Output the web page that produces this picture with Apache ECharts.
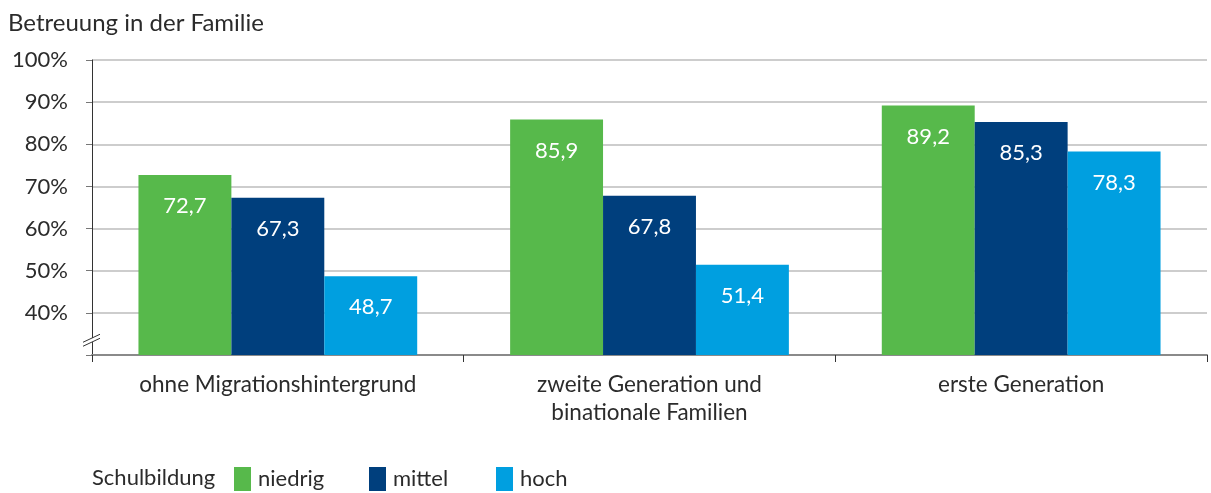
<!DOCTYPE html>
<html>
<head>
<meta charset="utf-8">
<script src="https://cdn.jsdelivr.net/npm/echarts@6/dist/echarts.min.js"></script>
<style>
    html, body { margin: 0; padding: 0; background: #fff; }
    #chart { width: 1211px; height: 493px; }
</style>
</head>
<body>
<div id="chart"></div>
<script>
"use strict";
var categories = ["ohne Migrationshintergrund", "zweite Generation und\nbinationale Familien", "erste Generation"];
var seriesNames = ["niedrig", "mittel", "hoch"];
var niedrig = [72.7, 85.9, 89.2];
var mittel = [67.3, 67.8, 85.3];
var hoch = [48.7, 51.4, 78.3];
var colors = ["#57b94b", "#003f7d", "#009fe0"];
var legendLefts = [234, 369, 496];

var fontFamily = "Lato, 'Open Sans', sans-serif";
var textColor = "#2b2b2b";

var chart = echarts.init(document.getElementById("chart"));

function makeSeries(name, values, color) {
    return {
        name: name,
        type: "bar",
        data: values,
        itemStyle: { color: color },
        barGap: "0%",
        barCategoryGap: "25%",
        label: {
            show: true,
            position: "insideTop",
            distance: 20,
            color: "#fff",
            fontSize: 22,
            fontFamily: fontFamily,
            formatter: function (p) {
                return p.value.toFixed(1).replace(".", ",");
            }
        }
    };
}

function makeLegend(i) {
    return {
        data: [seriesNames[i]],
        left: legendLefts[i],
        top: 467,
        padding: 0,
        itemWidth: 17,
        itemHeight: 24,
        itemGap: 0,
        icon: "rect",
        textStyle: { fontSize: 22, color: textColor, fontFamily: fontFamily, padding: [0, 0, 0, 2] }
    };
}

var options = {
    animation: false,
    textStyle: { fontFamily: fontFamily },
    title: {
        text: "Betreuung in der Familie",
        left: 3,
        top: 6,
        textStyle: { fontSize: 24, fontWeight: "normal", color: textColor, fontFamily: fontFamily }
    },
    legend: [makeLegend(0), makeLegend(1), makeLegend(2)],
    grid: {
        left: 92,
        right: 4,
        top: 60,
        bottom: 138
    },
    xAxis: {
        type: "category",
        data: categories,
        axisLine: { lineStyle: { color: "#8a8a8a", width: 2 } },
        axisTick: { show: true, length: 7, lineStyle: { color: "#333", width: 1 } },
        axisLabel: {
            margin: 16,
            fontSize: 22.5,
            lineHeight: 28,
            color: textColor,
            fontFamily: fontFamily
        }
    },
    yAxis: {
        type: "value",
        min: 30,
        max: 100,
        interval: 10,
        axisLine: { show: true, lineStyle: { color: "#333", width: 1 } },
        axisTick: { show: true, length: 6, lineStyle: { color: "#777" } },
        splitLine: { lineStyle: { color: "#bdbdbd", width: 1.5 } },
        axisLabel: {
            margin: 24,
            fontSize: 22,
            color: textColor,
            fontFamily: fontFamily,
            formatter: function (v) {
                return v < 40 ? "" : v + "%";
            }
        }
    },
    series: [
        makeSeries(seriesNames[0], niedrig, colors[0]),
        makeSeries(seriesNames[1], mittel, colors[1]),
        makeSeries(seriesNames[2], hoch, colors[2])
    ]
};

chart.setOption(options);

// legend caption and axis break mark
var yx = 92;
var by = chart.convertToPixel({ yAxisIndex: 0 }, 33.5);
chart.setOption({
    graphic: [
        {
            type: "text",
            left: 92,
            top: 467,
            style: { text: "Schulbildung", fontSize: 22, fill: textColor, fontFamily: fontFamily }
        },
        {
            type: "polygon",
            shape: { points: [[yx - 8, by + 2], [yx + 8, by - 6], [yx + 8, by - 2], [yx - 8, by + 6]] },
            style: { fill: "#fff" },
            z: 10
        },
        {
            type: "line",
            shape: { x1: yx - 9, y1: by + 2, x2: yx + 8, y2: by - 6 },
            style: { stroke: "#333", lineWidth: 1 },
            z: 11
        },
        {
            type: "line",
            shape: { x1: yx - 9, y1: by + 6, x2: yx + 8, y2: by - 2 },
            style: { stroke: "#333", lineWidth: 1 },
            z: 11
        }
    ]
});
</script>
</body>
</html>
